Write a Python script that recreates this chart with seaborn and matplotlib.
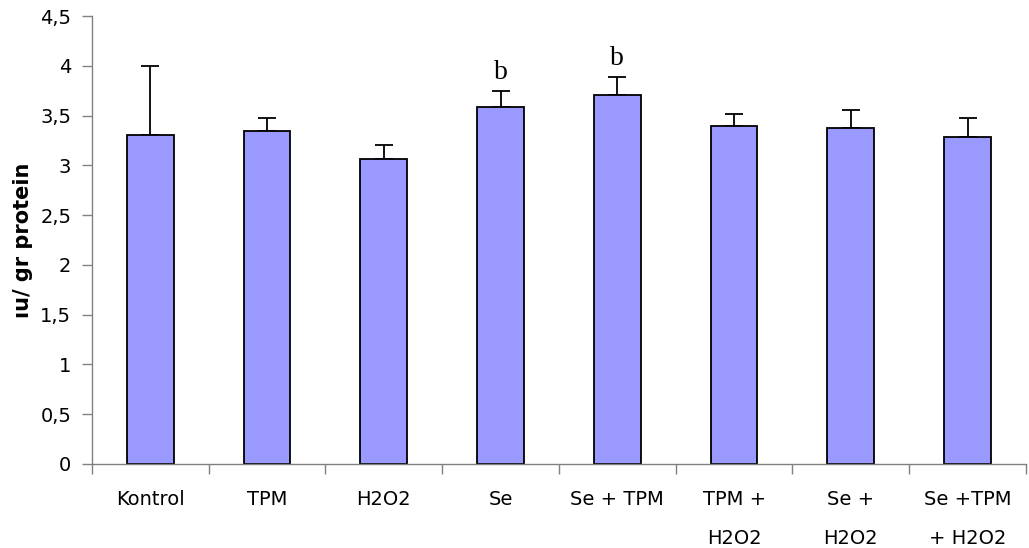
import matplotlib.pyplot as plt
import seaborn as sns
import pandas as pd
import numpy as np

# group names, means and (upper) SD
groups = ["Kontrol", "TPM", "H2O2", "Se", "Se + TPM", "TPM +\nH2O2", "Se +\nH2O2", "Se +TPM\n+ H2O2"]
means = [3.30, 3.34, 3.06, 3.59, 3.71, 3.40, 3.38, 3.28]
errors = [0.70, 0.14, 0.14, 0.16, 0.18, 0.12, 0.18, 0.20]
marks = ["", "", "", "b", "b", "", "", ""]

yticks = [0, 0.5, 1, 1.5, 2, 2.5, 3, 3.5, 4, 4.5]
ytick_labels = ["0", "0,5", "1", "1,5", "2", "2,5", "3", "3,5", "4", "4,5"]

df = pd.DataFrame({"group": groups, "value": means, "err": errors})

sns.set_style("white")
plt.rcParams["font.family"] = ["DejaVu Sans"]
plt.rcParams["text.color"] = "black"
plt.rcParams["xtick.labelcolor"] = "black"
plt.rcParams["ytick.labelcolor"] = "black"
plt.rcParams["axes.labelcolor"] = "black"

fig = plt.figure(figsize=(10.29, 5.48), dpi=100)
ax = fig.add_axes([0.0894, 0.1533, 0.9076, 0.8175])

# upper-only error bars, drawn first so bars sit on top
x = np.arange(len(groups))
ax.errorbar(x, df["value"], yerr=[np.zeros(len(groups)), df["err"]],
            fmt="none", ecolor="black", elinewidth=1.3, capsize=6.5, capthick=1.3, zorder=1)

sns.barplot(data=df, x="group", y="value", color="#9999FF", saturation=1,
            width=0.4, edgecolor="black", linewidth=1.3, errorbar=None, ax=ax, zorder=2)

# significance letters
for i, m in enumerate(marks):
    if m:
        ax.annotate(m, (i, means[i] + errors[i]), xytext=(0, 8.5), textcoords="offset points",
                    ha="center", va="baseline", fontsize=20, family="Liberation Serif", color="black")

ax.set_xlim(-0.5, len(groups) - 0.5)
ax.set_ylim(0, 4.5)
ax.set_yticks(yticks)
ax.set_yticklabels(ytick_labels, fontsize=14)
ax.set_xticks(x)
ax.set_xticklabels(groups, fontsize=14, linespacing=2.3, va="top")
ax.set_xticks(np.arange(len(groups) + 1) - 0.5, minor=True)

ax.tick_params(axis="x", which="major", length=0, pad=19)
ax.tick_params(axis="x", which="minor", length=7, width=1, color="#808080", direction="out", bottom=True)
ax.tick_params(axis="y", length=7, width=1, color="#808080", direction="out", left=True, pad=8)

ax.set_xlabel("")
ax.set_ylabel("ıu/ gr protein", fontsize=15, fontweight="bold", color="black")
ax.yaxis.set_label_coords(-0.063, 0.5)

for s in ["top", "right"]:
    ax.spines[s].set_visible(False)
for s in ["left", "bottom"]:
    ax.spines[s].set_color("#808080")
    ax.spines[s].set_linewidth(1)

fig.savefig("out.png", dpi=100)
